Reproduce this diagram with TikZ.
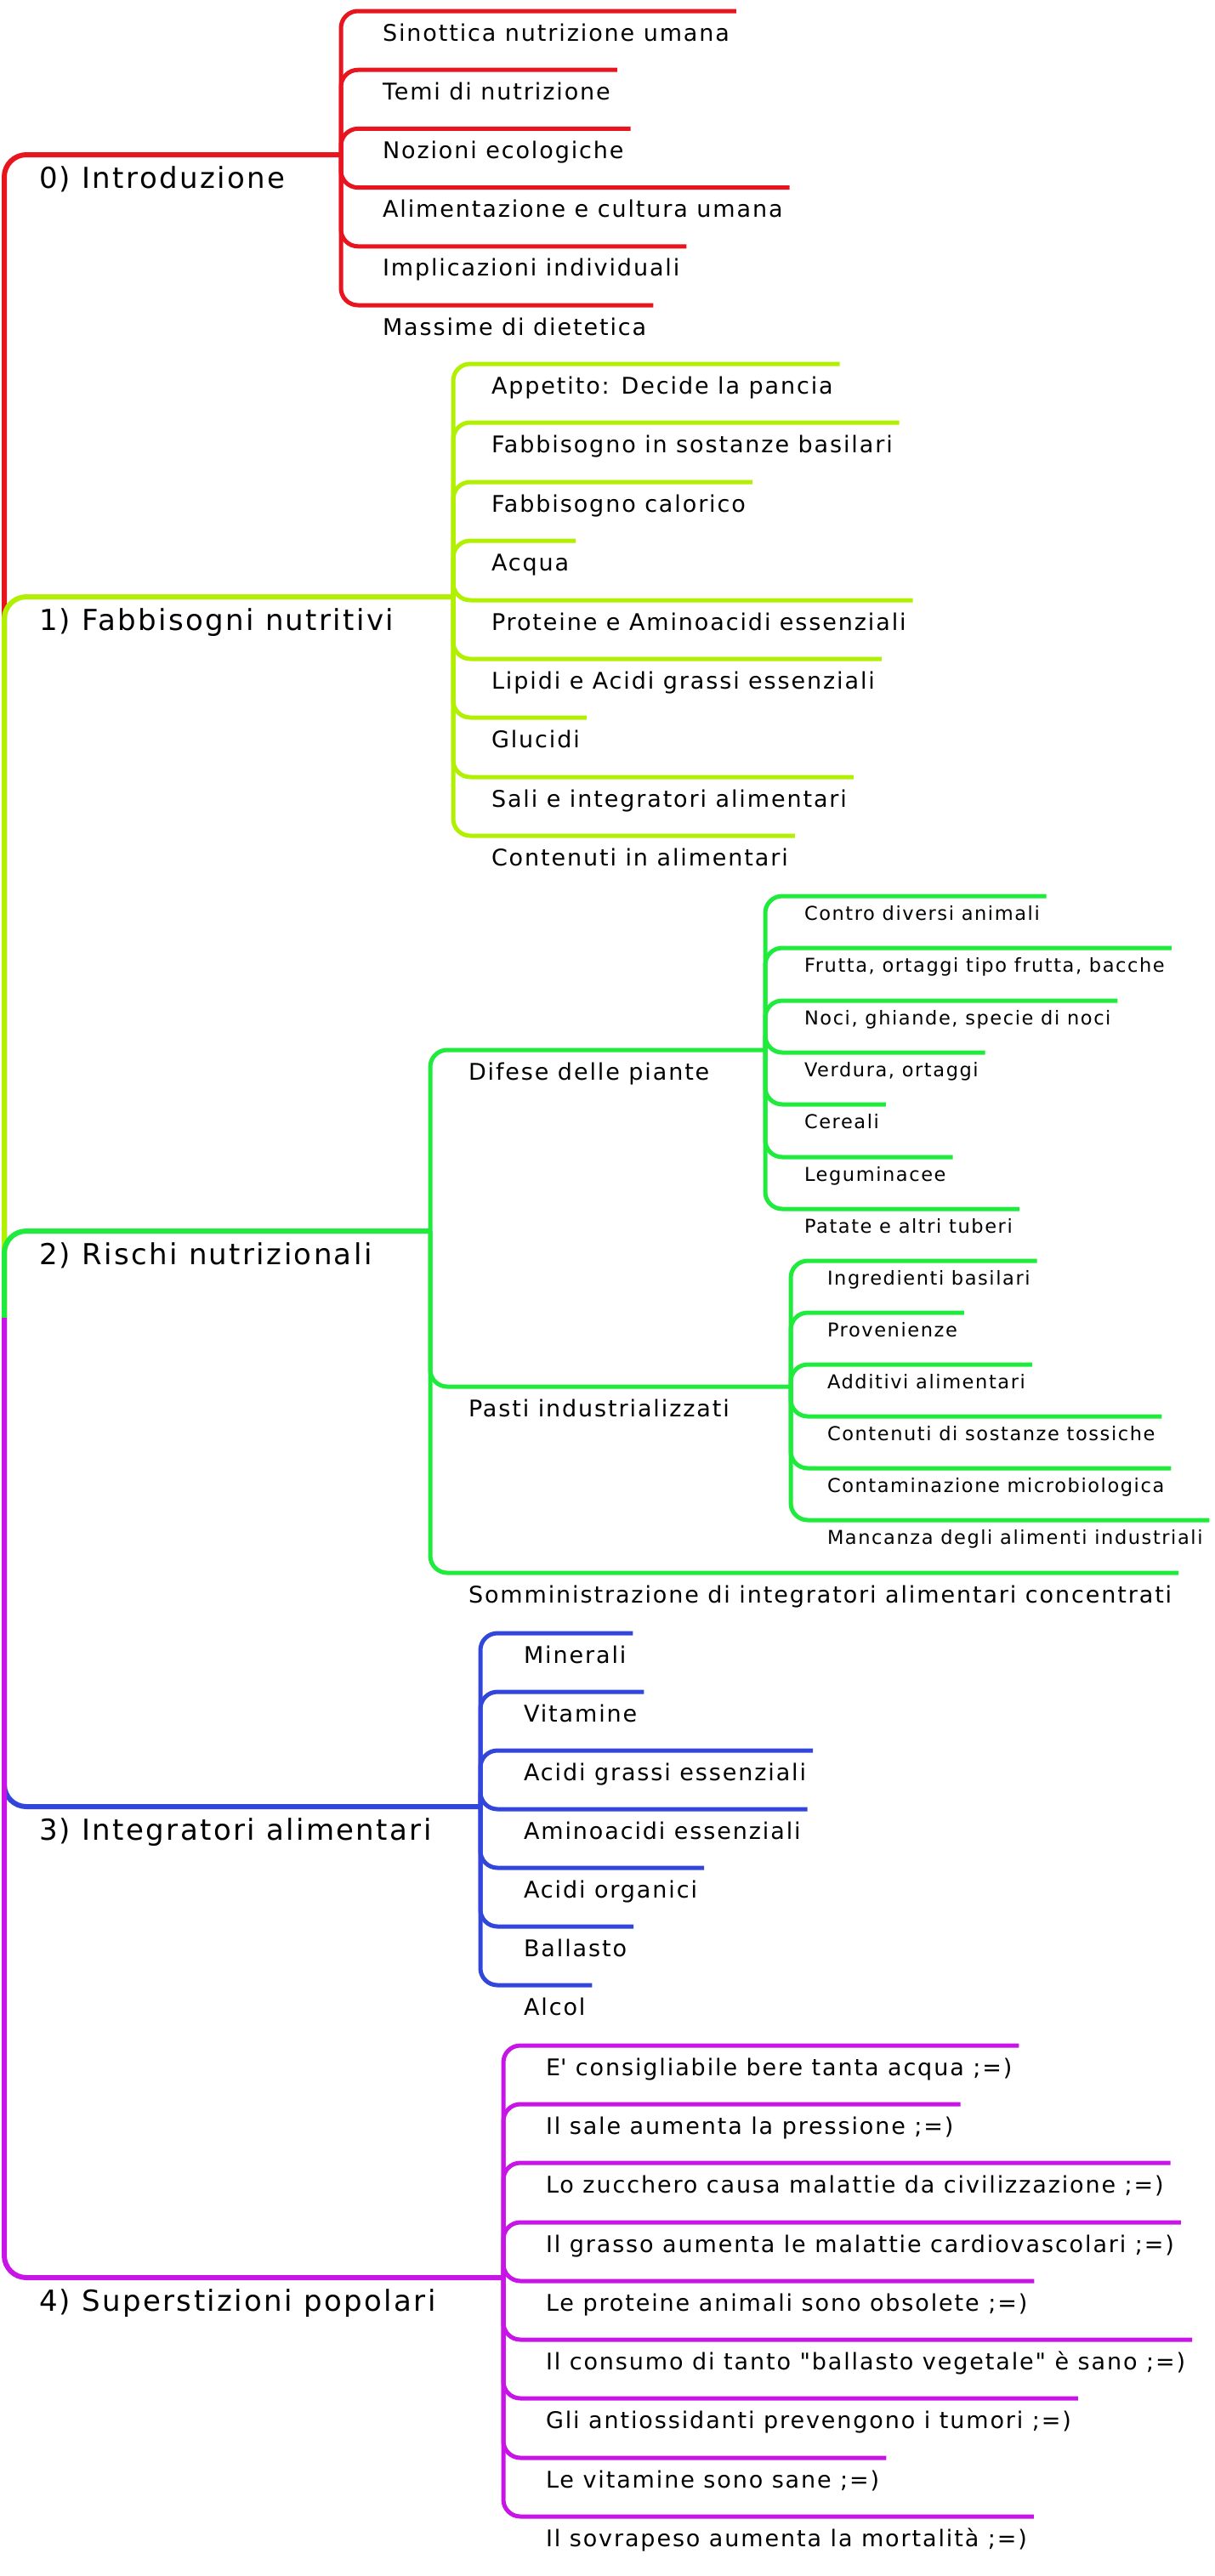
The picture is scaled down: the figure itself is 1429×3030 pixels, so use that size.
\documentclass[tikz,border=0pt]{standalone}
\usepackage{fontspec}
\newfontfamily\mapfont[LetterSpace=7]{DejaVu Sans}
\usetikzlibrary{positioning}
\definecolor{introred}{RGB}{232,20,30}
\definecolor{needlime}{RGB}{176,240,0}
\definecolor{riskgreen}{RGB}{30,235,60}
\definecolor{suppblue}{RGB}{50,70,220}
\definecolor{mythpink}{RGB}{200,20,230}
\tikzset{
  topic/.style   ={anchor=north west,inner sep=0pt,outer sep=0pt,
                   font=\mapfont\fontsize{34}{40}\selectfont,text height=39pt},
  subtopic/.style={anchor=north west,inner sep=0pt,outer sep=0pt,
                   font=\mapfont\fontsize{27}{32}\selectfont,text height=35pt},
  detail/.style  ={anchor=north west,inner sep=0pt,outer sep=0pt,
                   font=\mapfont\fontsize{22.5}{27}\selectfont,text height=28pt},
  trunk/.style   ={line width=6pt,rounded corners=26pt},
  twig/.style    ={line width=5pt,rounded corners=20pt}
}

\begin{document}
\begin{tikzpicture}[x=1pt,y=-1pt]
  \useasboundingbox (0,0) rectangle (1429,3030);

  % root and branch points
  \coordinate (root) at (5,1550);
  \coordinate (b0) at (401,182);
  \coordinate (b1) at (533,702);
  \coordinate (b2) at (506,1448);
  \coordinate (b3) at (565,2125);
  \coordinate (b4) at (592,2679);
  \coordinate (bd) at (900,1235);
  \coordinate (bp) at (930,1631);

  % main topics
  \node (m0) [topic] at (46,182)  {0) Introduzione};
  \node (m1) [topic] at (46,702)  {1) Fabbisogni nutritivi};
  \node (m2) [topic] at (46,1448) {2) Rischi nutrizionali};
  \node (m3) [topic] at (46,2125) {3) Integratori alimentari};
  \node (m4) [topic] at (46,2679) {4) Superstizioni popolari};

  % 0) Introduzione
  \node (c01) [subtopic] at (450,13)    {Sinottica nutrizione umana};
  \node (c02) [subtopic] at (450,82.2)  {Temi di nutrizione};
  \node (c03) [subtopic] at (450,151.4) {Nozioni ecologiche};
  \node (c04) [subtopic] at (450,220.6) {Alimentazione e cultura umana};
  \node (c05) [subtopic] at (450,289.8) {Implicazioni individuali};
  \node (c06) [subtopic] at (450,359)   {Massime di dietetica};

  % 1) Fabbisogni nutritivi
  \node (c11) [subtopic] at (578,428) {Appetito: Decide la pancia};
  \node (c12) [subtopic] at (578,497) {Fabbisogno in sostanze basilari};
  \node (c13) [subtopic] at (578,567) {Fabbisogno calorico};
  \node (c14) [subtopic] at (578,636) {Acqua};
  \node (c15) [subtopic] at (578,706) {Proteine e Aminoacidi essenziali};
  \node (c16) [subtopic] at (578,775) {Lipidi e Acidi grassi essenziali};
  \node (c17) [subtopic] at (578,844) {Glucidi};
  \node (c18) [subtopic] at (578,914) {Sali e integratori alimentari};
  \node (c19) [subtopic] at (578,983) {Contenuti in alimentari};

  % 2) Rischi nutrizionali
  \node (dif)  [subtopic] at (551,1235) {Difese delle piante};
  \node (pas)  [subtopic] at (551,1631) {Pasti industrializzati};
  \node (som)  [subtopic] at (551,1850) {Somministrazione di integratori alimentari concentrati};
  \node (d1) [detail] at (946,1054) {Contro diversi animali};
  \node (d2) [detail] at (946,1115) {Frutta, ortaggi tipo frutta, bacche};
  \node (d3) [detail] at (946,1177) {Noci, ghiande, specie di noci};
  \node (d4) [detail] at (946,1238) {Verdura, ortaggi};
  \node (d5) [detail] at (946,1299) {Cereali};
  \node (d6) [detail] at (946,1361) {Leguminacee};
  \node (d7) [detail] at (946,1422) {Patate e altri tuberi};
  \node (p1) [detail] at (973,1483) {Ingredienti basilari};
  \node (p2) [detail] at (973,1544) {Provenienze};
  \node (p3) [detail] at (973,1605) {Additivi alimentari};
  \node (p4) [detail] at (973,1666) {Contenuti di sostanze tossiche};
  \node (p5) [detail] at (973,1727) {Contaminazione microbiologica};
  \node (p6) [detail] at (973,1788) {Mancanza degli alimenti industriali};

  % 3) Integratori alimentari
  \node (c31) [subtopic] at (616,1921) {Minerali};
  \node (c32) [subtopic] at (616,1990) {Vitamine};
  \node (c33) [subtopic] at (616,2059) {Acidi grassi essenziali};
  \node (c34) [subtopic] at (616,2128) {Aminoacidi essenziali};
  \node (c35) [subtopic] at (616,2197) {Acidi organici};
  \node (c36) [subtopic] at (616,2266) {Ballasto};
  \node (c37) [subtopic] at (616,2335) {Alcol};

  % 4) Superstizioni popolari
  \node (c41) [subtopic] at (642,2406) {E\textquotesingle{} consigliabile bere tanta acqua ;=)};
  \node (c42) [subtopic] at (642,2475) {Il sale aumenta la pressione ;=)};
  \node (c43) [subtopic] at (642,2544) {Lo zucchero causa malattie da civilizzazione ;=)};
  \node (c44) [subtopic] at (642,2614) {Il grasso aumenta le malattie cardiovascolari ;=)};
  \node (c45) [subtopic] at (642,2683) {Le proteine animali sono obsolete ;=)};
  \node (c46) [subtopic] at (642,2752) {Il consumo di tanto "ballasto vegetale" è sano ;=)};
  \node (c47) [subtopic] at (642,2821) {Gli antiossidanti prevengono i tumori ;=)};
  \node (c48) [subtopic] at (642,2891) {Le vitamine sono sane ;=)};
  \node (c49) [subtopic] at (642,2960) {Il sovrapeso aumenta la mortalità ;=)};

  % trunk
  \draw [trunk,introred]  (root) |- (b0);
  \draw [trunk,needlime]  (root) |- (b1);
  \draw [trunk,riskgreen] (root) |- (b2);
  \draw [trunk,suppblue]  (root) |- (b3);
  \draw [trunk,mythpink]  (root) |- (b4);

  % branches
  \draw [twig,introred] (b0) |- ([xshift=8pt]c01.north east);
  \draw [twig,introred] (b0) |- ([xshift=8pt]c02.north east);
  \draw [twig,introred] (b0) |- ([xshift=8pt]c03.north east);
  \draw [twig,introred] (b0) |- ([xshift=8pt]c04.north east);
  \draw [twig,introred] (b0) |- ([xshift=8pt]c05.north east);
  \draw [twig,introred] (b0) |- ([xshift=8pt]c06.north east);

  \draw [twig,needlime] (b1) |- ([xshift=8pt]c11.north east);
  \draw [twig,needlime] (b1) |- ([xshift=8pt]c12.north east);
  \draw [twig,needlime] (b1) |- ([xshift=8pt]c13.north east);
  \draw [twig,needlime] (b1) |- ([xshift=8pt]c14.north east);
  \draw [twig,needlime] (b1) |- ([xshift=8pt]c15.north east);
  \draw [twig,needlime] (b1) |- ([xshift=8pt]c16.north east);
  \draw [twig,needlime] (b1) |- ([xshift=8pt]c17.north east);
  \draw [twig,needlime] (b1) |- ([xshift=8pt]c18.north east);
  \draw [twig,needlime] (b1) |- ([xshift=8pt]c19.north east);

  \draw [twig,riskgreen] (b2) |- (bd);
  \draw [twig,riskgreen] (b2) |- (bp);
  \draw [twig,riskgreen] (b2) |- ([xshift=8pt]som.north east);
  \draw [twig,riskgreen] (bd) |- ([xshift=8pt]d1.north east);
  \draw [twig,riskgreen] (bd) |- ([xshift=8pt]d2.north east);
  \draw [twig,riskgreen] (bd) |- ([xshift=8pt]d3.north east);
  \draw [twig,riskgreen] (bd) |- ([xshift=8pt]d4.north east);
  \draw [twig,riskgreen] (bd) |- ([xshift=8pt]d5.north east);
  \draw [twig,riskgreen] (bd) |- ([xshift=8pt]d6.north east);
  \draw [twig,riskgreen] (bd) |- ([xshift=8pt]d7.north east);
  \draw [twig,riskgreen] (bp) |- ([xshift=8pt]p1.north east);
  \draw [twig,riskgreen] (bp) |- ([xshift=8pt]p2.north east);
  \draw [twig,riskgreen] (bp) |- ([xshift=8pt]p3.north east);
  \draw [twig,riskgreen] (bp) |- ([xshift=8pt]p4.north east);
  \draw [twig,riskgreen] (bp) |- ([xshift=8pt]p5.north east);
  \draw [twig,riskgreen] (bp) |- ([xshift=8pt]p6.north east);

  \draw [twig,suppblue] (b3) |- ([xshift=8pt]c31.north east);
  \draw [twig,suppblue] (b3) |- ([xshift=8pt]c32.north east);
  \draw [twig,suppblue] (b3) |- ([xshift=8pt]c33.north east);
  \draw [twig,suppblue] (b3) |- ([xshift=8pt]c34.north east);
  \draw [twig,suppblue] (b3) |- ([xshift=8pt]c35.north east);
  \draw [twig,suppblue] (b3) |- ([xshift=8pt]c36.north east);
  \draw [twig,suppblue] (b3) |- ([xshift=8pt]c37.north east);

  \draw [twig,mythpink] (b4) |- ([xshift=8pt]c41.north east);
  \draw [twig,mythpink] (b4) |- ([xshift=8pt]c42.north east);
  \draw [twig,mythpink] (b4) |- ([xshift=8pt]c43.north east);
  \draw [twig,mythpink] (b4) |- ([xshift=8pt]c44.north east);
  \draw [twig,mythpink] (b4) |- ([xshift=8pt]c45.north east);
  \draw [twig,mythpink] (b4) |- ([xshift=8pt]c46.north east);
  \draw [twig,mythpink] (b4) |- ([xshift=8pt]c47.north east);
  \draw [twig,mythpink] (b4) |- ([xshift=8pt]c48.north east);
  \draw [twig,mythpink] (b4) |- ([xshift=8pt]c49.north east);
\end{tikzpicture}
\end{document}
